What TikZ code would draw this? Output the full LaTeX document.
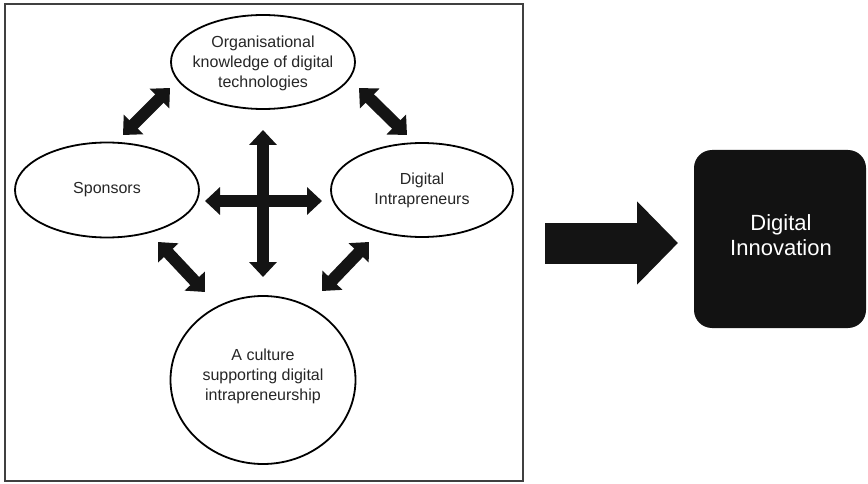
\documentclass[tikz,border=0pt]{standalone}
\usepackage{fontspec}
\setmainfont{Liberation Sans}
\usetikzlibrary{arrows.meta,shapes.geometric}
\begin{document}
\begin{tikzpicture}[x=1pt,y=-1pt,
  oval/.style={ellipse, draw=black, line width=1.8pt, fill=white, inner sep=0pt},
  ovaltext/.style={align=center, text=black!85, inner sep=0pt, font=\fontsize{16}{20}\selectfont},
  biarrow/.style={line width=12pt, draw=black!92, line cap=butt,
    {Triangle[length=15pt,width=27pt]}-{Triangle[length=15pt,width=27pt]}},
  bigarrow/.style={line width=41pt, draw=black!92, line cap=butt,
    -{Triangle[length=41pt,width=81pt]}},
  blackbox/.style={fill=black!93, rounded corners=18pt, minimum width=172pt, minimum height=178pt, inner sep=0pt},
  boxtext/.style={align=center, text=white, inner sep=0pt, font=\fontsize{22}{25}\selectfont},
  frame/.style={line width=2.5pt, draw=black!75}
]
\useasboundingbox (0,0) rectangle (868,484);
\draw[frame] (5,4) rectangle (523,481);

% ovals
\node[oval, minimum width=184pt, minimum height=94pt] (org) at (263,62) {};
\node[ovaltext] (orgtext) at (263,63) {Organisational\\knowledge of digital\\technologies};
\node[oval, minimum width=184pt, minimum height=95pt] (spons) at (107,190) {};
\node[ovaltext] (sponstext) at (107,190) {Sponsors};
\node[oval, minimum width=182pt, minimum height=94pt] (digi) at (422,190) {};
\node[ovaltext] (digitext) at (422,190) {Digital\\Intrapreneurs};
\node[oval, minimum width=185pt, minimum height=168pt] (cult) at (263,380) {};
\node[ovaltext] (culttext) at (263,376) {A culture\\supporting digital\\intrapreneurship};

% arrow end points
\coordinate (tlA) at (123,135); \coordinate (tlB) at (170,88);
\coordinate (trA) at (359,88);  \coordinate (trB) at (407,135);
\coordinate (blA) at (158,242); \coordinate (blB) at (205,292);
\coordinate (brA) at (369,242); \coordinate (brB) at (322,291);
\coordinate (vA) at (263,130);  \coordinate (vB) at (263,277);
\coordinate (hA) at (205,201);  \coordinate (hB) at (322,201);

\draw[biarrow] (tlA) -- (tlB);
\draw[biarrow] (trA) -- (trB);
\draw[biarrow] (blA) -- (blB);
\draw[biarrow] (brA) -- (brB);
\draw[biarrow] (vA) -- (vB);
\draw[biarrow] (hA) -- (hB);

% output
\node[blackbox] (innov) at (780,239) {};
\node[boxtext] (innovtext) at (781,235) {Digital\\Innovation};
\coordinate (bigA) at (545,243);
\coordinate (bigB) at (678,243);
\draw[bigarrow] (bigA) -- (bigB);
\end{tikzpicture}
\end{document}
